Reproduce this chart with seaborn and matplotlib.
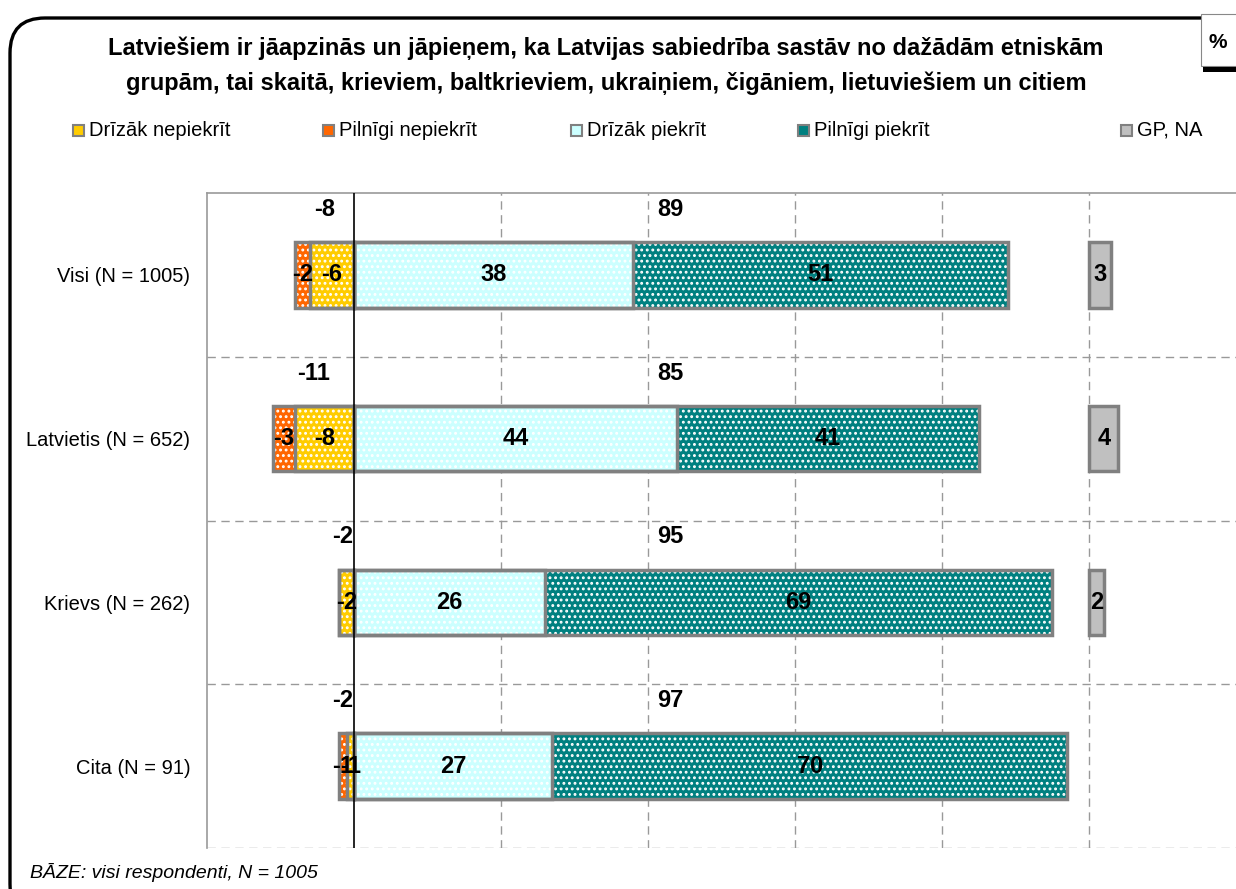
import numpy as np
import pandas as pd
import matplotlib.pyplot as plt
import seaborn as sns
from matplotlib.patches import FancyBboxPatch, Rectangle

# data
groups = ["Visi (N = 1005)", "Latvietis (N = 652)", "Krievs (N = 262)", "Cita (N = 91)"]
drizak_nepiekrit = [-6, -8, -2, -1]
pilnigi_nepiekrit = [-2, -3, 0, -1]
drizak_piekrit = [38, 44, 26, 27]
pilnigi_piekrit = [51, 41, 69, 70]
gp_na = [3, 4, 2, 0]
neg_totals = [-8, -11, -2, -2]
pos_totals = [89, 85, 95, 97]

series_names = ["Drīzāk nepiekrīt", "Pilnīgi nepiekrīt", "Drīzāk piekrīt", "Pilnīgi piekrīt", "GP, NA"]
colors = ["#FFCC00", "#FF6600", "#CCFFFF", "#008080", "#C0C0C0"]
title = ("Latviešiem ir jāapzinās un jāpieņem, ka Latvijas sabiedrība sastāv no dažādām etniskām\n"
         "grupām, tai skaitā, krieviem, baltkrieviem, ukraiņiem, čigāniem, lietuviešiem un citiem")
footnote = "BĀZE: visi respondenti, N = 1005"

EDGE = "#808080"
FONT = ["Liberation Sans", "DejaVu Sans"]


def main():
    sns.set_style("white")
    plt.rcParams["font.family"] = FONT
    plt.rcParams["text.color"] = "black"
    plt.rcParams["ytick.color"] = "black"
    plt.rcParams["hatch.linewidth"] = 1.3

    df = pd.DataFrame({
        "grupa": groups,
        "dn": drizak_nepiekrit,
        "pn": pilnigi_nepiekrit,
        "dp": drizak_piekrit,
        "pp": pilnigi_piekrit,
        "gp": gp_na,
    })
    # cumulative ends so bars can be overlapped back to front
    df["neg_outer"] = df["dn"] + df["pn"]
    df["pos_outer"] = df["dp"] + df["pp"]

    fig = plt.figure(figsize=(12.36, 8.89), dpi=100)
    ax = fig.add_axes([207 / 1236, 1 - 848 / 889, 1 - 207 / 1236, (848 - 193) / 889])

    layers = [("neg_outer", colors[1]), ("dn", colors[0]),
              ("pos_outer", colors[3]), ("dp", colors[2])]
    for col, c in layers:
        sns.barplot(data=df, x=col, y="grupa", order=groups, width=0.4, orient="h",
                    color=c, saturation=1, edgecolor="white", linewidth=0,
                    hatch="...", errorbar=None, ax=ax, zorder=3)
    for col, c in layers:
        sns.barplot(data=df, x=col, y="grupa", order=groups, width=0.4, orient="h",
                    fill=False, color=EDGE, linewidth=2.5, errorbar=None, ax=ax, zorder=4)

    # GP, NA bars start at 100
    ypos = np.arange(len(groups))
    gp = np.array(gp_na)
    ax.barh(ypos[gp > 0], gp[gp > 0], left=100, height=0.4, color=colors[4],
            edgecolor=EDGE, linewidth=2.5, zorder=4)

    # segment labels
    lab = dict(ha="center", va="center", fontsize=17, fontweight="bold", zorder=6)
    for i in range(len(groups)):
        dn, pn, dp, pp, g = drizak_nepiekrit[i], pilnigi_nepiekrit[i], drizak_piekrit[i], pilnigi_piekrit[i], gp_na[i]
        if pn != 0:
            ax.text(dn + pn / 2, i, f"{pn}", **lab)
        if dn != 0:
            ax.text(dn / 2, i, f"{dn}", **lab)
        ax.text(dp / 2, i, f"{dp}", **lab)
        ax.text(dp + pp / 2, i, f"{pp}", **lab)
        if g > 0:
            ax.text(100 + g / 2, i, f"{g}", **lab)
        # totals above the bars
        ax.text(min(neg_totals[i] / 2, -1.5), i - 0.4, f"{neg_totals[i]}", **lab)
        ax.text(43, i - 0.4, f"{pos_totals[i]}", **lab)

    ax.set_xlim(-20, 120)
    ax.set_ylim(3.5, -0.5)
    ax.set_xticks([20, 40, 60, 80, 100])
    ax.set_xticklabels([])
    ax.tick_params(axis="x", length=0)
    ax.tick_params(axis="y", length=0, pad=12, labelsize=14.5, labelcolor="black")
    ax.grid(axis="x", color="#999999", linestyle=(0, (6, 4)), linewidth=1, zorder=0)
    ax.set_axisbelow(True)
    for yb in [0.5, 1.5, 2.5, 3.5]:
        ax.axhline(yb, color="#999999", linestyle=(0, (6, 4)), linewidth=1, zorder=1)
    ax.axvline(0, color="black", linewidth=1.2, zorder=5)
    ax.set_xlabel("")
    ax.set_ylabel("")
    for s in ["right", "bottom"]:
        ax.spines[s].set_visible(False)
    for s in ["left", "top"]:
        ax.spines[s].set_color("#999999")
        ax.spines[s].set_linewidth(1.2)

    # outer rounded frame
    frame = FancyBboxPatch((10, -30), 1260, 889 - 18 + 30,
                           boxstyle="round,pad=0,rounding_size=35",
                           transform=None, fill=False, edgecolor="black", linewidth=2.4)
    fig.add_artist(frame)

    # % box top right
    fig.add_artist(Rectangle((1201 / 1236, 1 - 66 / 889), 40 / 1236, 52 / 889,
                             transform=fig.transFigure, facecolor="white",
                             edgecolor="#888888", linewidth=0.8))
    fig.add_artist(Rectangle((1203 / 1236, 1 - 72 / 889), 40 / 1236, 5 / 889,
                             transform=fig.transFigure, facecolor="black", edgecolor="none"))
    fig.text(1218 / 1236, 1 - 42 / 889, "%", ha="center", va="center",
             fontsize=15, fontweight="bold")

    # title
    fig.text(606 / 1236, 1 - 66 / 889, title, ha="center", va="center",
             fontsize=17, fontweight="bold", linespacing=1.6)

    # legend
    sq_x = [73, 323, 571, 798, 1121]
    for x, name, c in zip(sq_x, series_names, colors):
        fig.add_artist(Rectangle((x / 1236, 1 - 136 / 889), 11 / 1236, 11 / 889,
                                 transform=fig.transFigure, facecolor=c,
                                 edgecolor=EDGE, linewidth=1.5))
        fig.text((x + 16) / 1236, 1 - 130 / 889, name, ha="left", va="center", fontsize=14.5)

    fig.text(30 / 1236, 1 - 872 / 889, footnote, ha="left", va="center",
             fontsize=14, fontstyle="italic")

    fig.savefig("out.png", dpi=100)


if __name__ == "__main__":
    main()
